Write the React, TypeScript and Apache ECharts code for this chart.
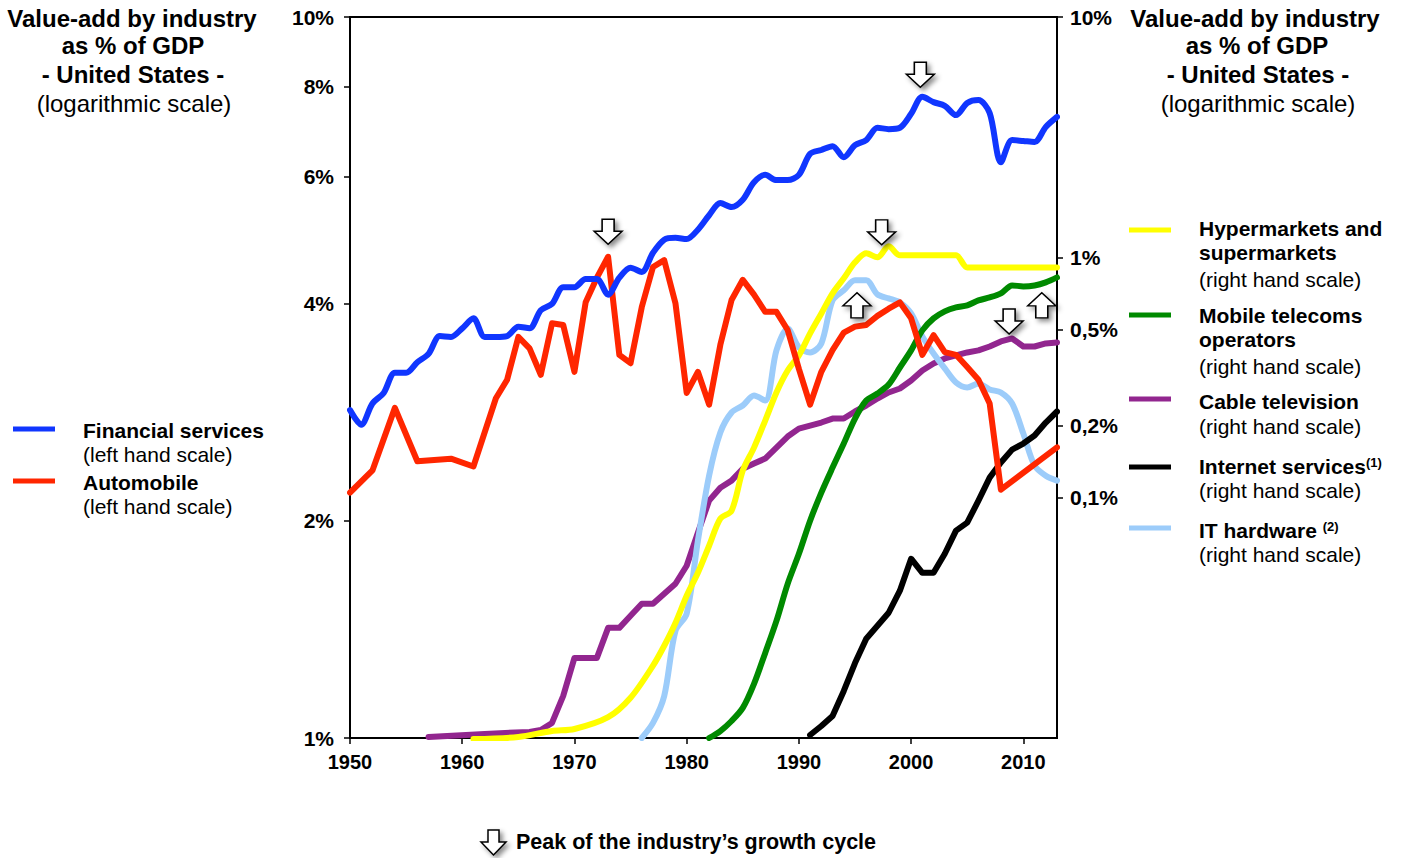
import React, { useEffect, useRef } from "react";
import * as echarts from "echarts";

const FONT = '"Liberation Sans", Arial, Helvetica, sans-serif';

// ---- tick labels ----
const xTickYears = [1950, 1960, 1970, 1980, 1990, 2000, 2010];
const leftTickPct = [1, 2, 4, 6, 8, 10];
const rightTickPct = [0.1, 0.2, 0.5, 1, 10];

// ---- series values: [year, % of GDP] ----
const financialServices = [
  [1950, 2.85], [1951, 2.72], [1952, 2.91], [1953, 3.01], [1954, 3.21], [1955, 3.21], [1956, 3.32], [1957, 3.41],
  [1958, 3.61], [1959, 3.6], [1960, 3.7], [1961, 3.82], [1962, 3.6], [1963, 3.6], [1964, 3.61], [1965, 3.72],
  [1966, 3.7], [1967, 3.92], [1968, 4.0], [1969, 4.22], [1970, 4.22], [1971, 4.33], [1972, 4.33], [1973, 4.12],
  [1974, 4.35], [1975, 4.49], [1976, 4.43], [1977, 4.71], [1978, 4.91], [1979, 4.94], [1980, 4.92], [1981, 5.07],
  [1982, 5.31], [1983, 5.52], [1984, 5.45], [1985, 5.58], [1986, 5.9], [1987, 6.04], [1988, 5.94], [1989, 5.94],
  [1990, 6.04], [1991, 6.46], [1992, 6.54], [1993, 6.62], [1994, 6.39], [1995, 6.64], [1996, 6.75], [1997, 7.02],
  [1998, 6.99], [1999, 7.02], [2000, 7.34], [2001, 7.75], [2002, 7.62], [2003, 7.53], [2004, 7.31], [2005, 7.6],
  [2006, 7.67], [2007, 7.36], [2008, 6.29], [2009, 6.75], [2010, 6.73], [2011, 6.71], [2012, 7.04], [2013, 7.27],
];

const automobile = [
  [1950, 2.19], [1952, 2.35], [1954, 2.87], [1956, 2.42], [1959, 2.44], [1961, 2.38], [1963, 2.96], [1964, 3.14],
  [1965, 3.6], [1966, 3.47], [1967, 3.19], [1968, 3.76], [1969, 3.74], [1970, 3.22], [1971, 4.02], [1972, 4.35],
  [1973, 4.65], [1974, 3.4], [1975, 3.31], [1976, 3.96], [1977, 4.5], [1978, 4.6], [1979, 4.01], [1980, 3.01],
  [1981, 3.22], [1982, 2.9], [1983, 3.51], [1984, 4.05], [1985, 4.32], [1986, 4.12], [1987, 3.9], [1988, 3.9],
  [1989, 3.68], [1990, 3.25], [1991, 2.9], [1992, 3.22], [1993, 3.45], [1994, 3.65], [1995, 3.72], [1996, 3.74],
  [1997, 3.85], [1998, 3.94], [1999, 4.02], [2000, 3.82], [2001, 3.4], [2002, 3.62], [2003, 3.43], [2004, 3.4],
  [2005, 3.27], [2006, 3.14], [2007, 2.91], [2008, 2.21], [2013, 2.53],
];

const hypermarkets = [
  [1961, 0.0099], [1965, 0.0101], [1968, 0.0107], [1970, 0.0109], [1973, 0.0122], [1975, 0.0147], [1977, 0.02],
  [1978, 0.0242], [1979, 0.0301], [1980, 0.0391], [1981, 0.0487], [1982, 0.0631], [1983, 0.0818], [1984, 0.0883],
  [1985, 0.1296], [1986, 0.1615], [1987, 0.2094], [1988, 0.274], [1989, 0.338], [1990, 0.391], [1991, 0.4825],
  [1992, 0.584], [1993, 0.708], [1994, 0.818], [1995, 0.953], [1996, 1.039], [1997, 1.0], [1998, 1.111],
  [1999, 1.019], [2000, 1.019], [2001, 1.019], [2002, 1.019], [2003, 1.019], [2004, 1.019], [2005, 0.908],
  [2006, 0.908], [2007, 0.908], [2008, 0.908], [2009, 0.908], [2010, 0.908], [2011, 0.908], [2012, 0.908], [2013, 0.908],
];

const mobileTelecoms = [
  [1982, 0.01], [1983, 0.01069], [1984, 0.01177], [1985, 0.01334], [1986, 0.0168], [1987, 0.0226], [1988, 0.0307],
  [1989, 0.0438], [1990, 0.0584], [1991, 0.0802], [1992, 0.105], [1993, 0.1334], [1994, 0.168], [1995, 0.2134],
  [1996, 0.2536], [1997, 0.2712], [1998, 0.2955], [1999, 0.348], [2000, 0.41], [2001, 0.4966], [2002, 0.557],
  [2003, 0.5957], [2004, 0.619], [2005, 0.631], [2006, 0.662], [2007, 0.681], [2008, 0.708], [2009, 0.764],
  [2010, 0.757], [2011, 0.764], [2012, 0.787], [2013, 0.825],
];

const cableTelevision = [
  [1957, 0.0101], [1962, 0.0104], [1966, 0.0106], [1967, 0.0108], [1968, 0.01155], [1969, 0.01496], [1970, 0.02154],
  [1971, 0.02154], [1972, 0.02154], [1973, 0.02873], [1974, 0.02873], [1975, 0.03224], [1976, 0.03617], [1977, 0.03617],
  [1978, 0.0398], [1979, 0.04383], [1980, 0.0521], [1981, 0.0715], [1982, 0.0972], [1983, 0.11], [1984, 0.1177],
  [1985, 0.132], [1986, 0.1386], [1987, 0.1454], [1988, 0.1615], [1989, 0.1796], [1990, 0.1938], [1991, 0.1995],
  [1992, 0.2054], [1993, 0.2134], [1994, 0.2134], [1995, 0.2283], [1996, 0.2418], [1997, 0.2585], [1998, 0.274],
  [1999, 0.2845], [2000, 0.3073], [2001, 0.338], [2002, 0.3617], [2003, 0.3796], [2004, 0.391], [2005, 0.402],
  [2006, 0.41], [2007, 0.4256], [2008, 0.4467], [2009, 0.4597], [2010, 0.4256], [2011, 0.4256], [2012, 0.4382], [2013, 0.4422],
];

const internetServices = [
  [1991, 0.01029], [1992, 0.01122], [1993, 0.01235], [1994, 0.0157], [1995, 0.0205], [1996, 0.0259], [1997, 0.0293],
  [1998, 0.0332], [1999, 0.041], [2000, 0.0557], [2001, 0.0487], [2002, 0.0487], [2003, 0.0584], [2004, 0.0729],
  [2005, 0.0787], [2006, 0.0972], [2007, 0.1212], [2008, 0.14], [2009, 0.1585], [2010, 0.168], [2011, 0.1813],
  [2012, 0.2054], [2013, 0.2283],
];

const itHardware = [
  [1976, 0.01], [1977, 0.01155], [1978, 0.01496], [1979, 0.0279], [1980, 0.0329], [1981, 0.0662], [1982, 0.1235],
  [1983, 0.1866], [1984, 0.2261], [1985, 0.2418], [1986, 0.266], [1987, 0.2536], [1988, 0.41], [1989, 0.506],
  [1990, 0.4217], [1991, 0.402], [1992, 0.4382], [1993, 0.662], [1994, 0.729], [1995, 0.802], [1996, 0.802],
  [1997, 0.701], [1998, 0.675], [1999, 0.649], [2000, 0.584], [2001, 0.469], [2002, 0.398], [2003, 0.345],
  [2004, 0.3014], [2005, 0.2873], [2006, 0.2985], [2007, 0.2818], [2008, 0.274], [2009, 0.2464], [2010, 0.1848],
  [2011, 0.136], [2012, 0.1235], [2013, 0.1177],
];

// years at which each industry's growth cycle peaked
const peakFinancial = 2001;
const peakAutomobile = 1973;
const peakHypermarkets = 1998;
const peakItHardware = 1995;
const peakCable = 2009;
const peakMobile = 2012;

const lg = (v: number) => Math.log10(v);
const toLog = (pts: number[][]) => pts.map(([x, v]) => [x, lg(v)]);

const DOWN = "path://M8,0L20,0L20,12L28,12L14,25L0,12L8,12Z";
const UP = "path://M14,0L28,13L20,13L20,25L8,25L8,13L0,13Z";

const arrowStyle = {
  color: "#ffffff",
  borderColor: "#000000",
  borderWidth: 1.5,
  shadowBlur: 5,
  shadowColor: "rgba(0,0,0,0.45)",
  shadowOffsetX: 3,
  shadowOffsetY: 3,
};

function peakMark(pts: number[][], year: number, dir: "up" | "down", offset: number[]) {
  const p = pts.find((d) => d[0] === year) as number[];
  return {
    silent: true,
    symbol: dir === "down" ? DOWN : UP,
    symbolSize: [28, 25],
    symbolOffset: offset,
    label: { show: false },
    itemStyle: arrowStyle,
    data: [{ coord: [p[0], lg(p[1])] }],
  };
}

function lineSeries(name: string, pts: number[][], color: string, yAxisIndex: number, smooth: number | boolean, markPoint?: any) {
  return {
    type: "line",
    name,
    yAxisIndex,
    data: toLog(pts),
    symbol: "none",
    showSymbol: false,
    smooth,
    lineStyle: { color, width: 6, cap: "round", join: "round" },
    itemStyle: { color },
    markPoint,
    z: 3,
  };
}

const BLUE = "#1036FF";
const RED = "#FF2600";
const YELLOW = "#FFFF00";
const GREEN = "#008A00";
const PURPLE = "#92268F";
const BLACK = "#000000";
const LIGHTBLUE = "#9CCCFA";

function txt(text: string, x: number, y: number, bold: boolean, size = 21, align = "left") {
  return {
    type: "text",
    x,
    y,
    silent: true,
    style: {
      text,
      font: `${bold ? "bold " : ""}${size}px ${FONT}`,
      fill: "#000",
      textAlign: align,
      textVerticalAlign: "middle",
    },
  };
}

function supTxt(main: string, sup: string, x: number, y: number) {
  return {
    type: "text",
    x,
    y,
    silent: true,
    style: {
      text: `{b|${main}}{s|${sup}}`,
      rich: {
        b: { font: `bold 21px ${FONT}`, fill: "#000" },
        s: { font: `bold 13px ${FONT}`, fill: "#000", verticalAlign: "top" },
      },
      textAlign: "left",
      textVerticalAlign: "middle",
    },
  };
}

function legLine(x1: number, y: number, color: string) {
  return {
    type: "line",
    silent: true,
    shape: { x1, y1: y, x2: x1 + 42, y2: y },
    style: { stroke: color, lineWidth: 5 },
  };
}

const axisLineStyle = {
  color: "#000",
  width: 2,
  shadowColor: "rgba(0,0,0,0.35)",
  shadowBlur: 4,
  shadowOffsetX: 2,
  shadowOffsetY: 3,
};

function fmtPct(v: number) {
  const p = Math.round(Math.pow(10, v) * 1000) / 1000;
  return String(p).replace(".", ",") + "%";
}

export default function App() {
  const ref = useRef<HTMLDivElement>(null);

  useEffect(() => {
    if (!ref.current) return;
    const chart = echarts.init(ref.current, undefined, { renderer: "svg" });

    const labelFont = { color: "#000", fontWeight: "bold", fontSize: 21, fontFamily: FONT };

    const option: any = {
      animation: false,
      backgroundColor: "#fff",
      grid: {
        left: 350,
        right: 347,
        top: 17,
        bottom: 120,
        show: true,
        borderColor: "#000",
        borderWidth: 2,
        backgroundColor: "transparent",
      },
      xAxis: {
        type: "value",
        min: 1950,
        max: 2013,
        interval: 10,
        axisLine: { show: true, onZero: false, lineStyle: axisLineStyle },
        axisTick: { show: true, length: 6, customValues: xTickYears, lineStyle: { color: "#000", width: 1.5 } },
        axisLabel: {
          color: "#000",
          fontWeight: "bold",
          fontSize: 20,
          fontFamily: FONT,
          margin: 14,
          customValues: xTickYears,
          formatter: (v: number) => String(v),
        },
        splitLine: { show: false },
      },
      yAxis: [
        {
          type: "value",
          position: "left",
          min: 0,
          max: 1,
          axisLine: { show: true, onZero: false, lineStyle: axisLineStyle },
          axisTick: { show: true, length: 6, customValues: leftTickPct.map(lg), lineStyle: { color: "#000", width: 1.5 } },
          axisLabel: { ...labelFont, margin: 16, customValues: leftTickPct.map(lg), formatter: (v: number) => Math.round(Math.pow(10, v)) + "%" },
          splitLine: { show: false },
        },
        {
          type: "value",
          position: "right",
          min: -2,
          max: 1,
          axisLine: { show: true, onZero: false, lineStyle: axisLineStyle },
          axisTick: { show: true, length: 6, customValues: rightTickPct.map(lg), lineStyle: { color: "#000", width: 1.5 } },
          axisLabel: { ...labelFont, margin: 13, customValues: rightTickPct.map(lg), formatter: fmtPct },
          splitLine: { show: false },
        },
      ],
      series: [
        lineSeries("Cable television", cableTelevision, PURPLE, 1, false, peakMark(cableTelevision, peakCable, "down", [-3, -17])),
        lineSeries("IT hardware", itHardware, LIGHTBLUE, 1, 0.3, peakMark(itHardware, peakItHardware, "up", [2, 25])),
        lineSeries("Hypermarkets and supermarkets", hypermarkets, YELLOW, 1, 0.3, peakMark(hypermarkets, peakHypermarkets, "down", [-7, -14])),
        lineSeries("Mobile telecoms operators", mobileTelecoms, GREEN, 1, 0.3, peakMark(mobileTelecoms, peakMobile, "up", [-4, 23])),
        lineSeries("Internet services", internetServices, BLACK, 1, false),
        lineSeries("Automobile", automobile, RED, 0, false, peakMark(automobile, peakAutomobile, "down", [0, -25])),
        lineSeries("Financial services", financialServices, BLUE, 0, 0.3, peakMark(financialServices, peakFinancial, "down", [-2, -22])),
      ],
      graphic: [
        // left title
        txt("Value-add by industry", 132, 18, true, 24, "center"),
        txt("as % of GDP", 133, 45, true, 24, "center"),
        txt("- United States -", 133, 74, true, 24, "center"),
        txt("(logarithmic scale)", 134, 103, false, 24, "center"),
        // right title
        txt("Value-add by industry", 1255, 18, true, 24, "center"),
        txt("as % of GDP", 1257, 45, true, 24, "center"),
        txt("- United States -", 1258, 74, true, 24, "center"),
        txt("(logarithmic scale)", 1258, 103, false, 24, "center"),
        // left legend
        legLine(13, 429, BLUE),
        txt("Financial services", 83, 430, true),
        txt("(left hand scale)", 83, 454, false),
        legLine(13, 481, RED),
        txt("Automobile", 83, 482, true),
        txt("(left hand scale)", 83, 506, false),
        // right legend
        legLine(1129, 230, YELLOW),
        txt("Hypermarkets and", 1199, 228, true),
        txt("supermarkets", 1199, 252, true),
        txt("(right hand scale)", 1199, 279, false),
        legLine(1129, 315, GREEN),
        txt("Mobile telecoms", 1199, 315, true),
        txt("operators", 1199, 339, true),
        txt("(right hand scale)", 1199, 366, false),
        legLine(1129, 399, PURPLE),
        txt("Cable television", 1199, 401, true),
        txt("(right hand scale)", 1199, 426, false),
        legLine(1129, 467, BLACK),
        supTxt("Internet services", "(1)", 1199, 466),
        txt("(right hand scale)", 1199, 490, false),
        legLine(1129, 528, LIGHTBLUE),
        supTxt("IT hardware ", "(2)", 1199, 530),
        txt("(right hand scale)", 1199, 554, false),
        // bottom legend
        {
          type: "polygon",
          silent: true,
          shape: {
            points: [
              [488, 830], [499, 830], [499, 842], [506, 842], [493.5, 855], [481, 842], [488, 842],
            ],
          },
          style: {
            fill: "#fff",
            stroke: "#000",
            lineWidth: 1.5,
            shadowBlur: 5,
            shadowColor: "rgba(0,0,0,0.45)",
            shadowOffsetX: 3,
            shadowOffsetY: 3,
          },
        },
        txt("Peak of the industry\u2019s growth cycle", 516, 842, true, 21.5),
      ],
    };

    chart.setOption(option);
    return () => {
      chart.dispose();
    };
  }, []);

  return (
    <div
      ref={ref}
      style={{ position: "absolute", left: 0, top: 0, width: 1404, height: 858, background: "#fff" }}
    />
  );
}
